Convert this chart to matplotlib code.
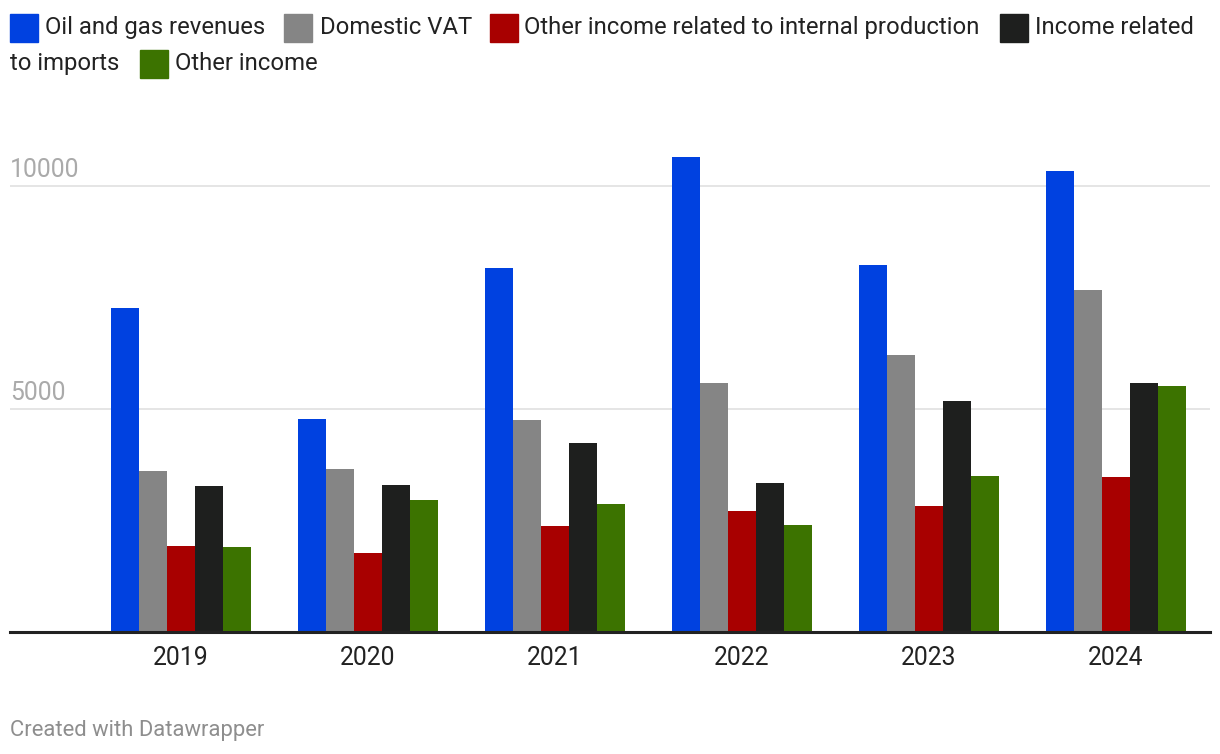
import matplotlib
matplotlib.use("Agg")
import matplotlib.pyplot as plt
from matplotlib.patches import Rectangle
import numpy as np

plt.rcParams['font.family'] = ['Roboto', 'DejaVu Sans']

# values
years = ["2019", "2020", "2021", "2022", "2023", "2024"]
oil_gas = [7262, 4776, 8157, 10642, 8224, 10329]
domestic_vat = [3612, 3657, 4754, 5582, 6209, 7664]
other_internal = [1933, 1776, 2381, 2717, 2829, 3478]
imports_income = [3276, 3299, 4239, 3343, 5179, 5582]
other_income = [1911, 2963, 2873, 2403, 3500, 5515]

series = [oil_gas, domestic_vat, other_internal, imports_income, other_income]
colors = ["#0041e0", "#858585", "#a80000", "#1e1f1e", "#3c7300"]
yticks = [5000, 10000]

W, H = 1220, 754
fig = plt.figure(figsize=(W / 100, H / 100), dpi=100)
fig.patch.set_facecolor("white")

def px(x, y):
    return x / W, 1 - y / H

ax_left, ax_right, ax_bottom = 10, 1210, 632
ymax = 11000
ppu = (632 - 186) / 10000  # pixels per unit
ax_top = ax_bottom - ymax * ppu
ax = fig.add_axes([ax_left / W, 1 - ax_bottom / H,
                   (ax_right - ax_left) / W, (ax_bottom - ax_top) / H])

x = np.arange(len(years))
bw = 0.1497
for i, (vals, c) in enumerate(zip(series, colors)):
    ax.bar(x + (i - 2) * bw, vals, width=bw, color=c, linewidth=0, zorder=3)

ax.set_xlim(-0.914, 5.503)
ax.set_ylim(0, ymax)
for s in ["top", "right", "left"]:
    ax.spines[s].set_visible(False)
ax.spines["bottom"].set_color("#222222")
ax.spines["bottom"].set_linewidth(2.2)
ax.spines["bottom"].set_zorder(4)
ax.set_yticks([])
for v in yticks:
    ax.axhline(v, color="#e5e5e5", lw=1.4, zorder=1)
    ax.text(0, v + 9 / ppu, str(v), transform=ax.get_yaxis_transform(),
            ha="left", va="baseline", fontsize=17.8, color="#aaaaaa")
ax.set_xticks(x)
ax.set_xticklabels([])
ax.tick_params(axis="x", length=0)
for xi, yr in zip(x, years):
    ax.text(xi, -33 / ppu, yr, ha="center", va="baseline", fontsize=17.8,
            color="#222222")

# legend drawn by hand, wrapped like the original
# (square x, text x, baseline y, series index, label)
legend_items = [
    (10, 45, 34, 0, "Oil and gas revenues"),
    (284, 320, 34, 1, "Domestic VAT"),
    (490, 524, 34, 2, "Other income related to internal production"),
    (1000, 1035, 34, 3, "Income related"),
    (140, 175, 70, 4, "Other income"),
]
for sx, tx, by, k, t in legend_items:
    fx, fy = px(sx, by + 8)
    fig.patches.append(Rectangle((fx, fy), 28 / W, 28 / H, transform=fig.transFigure,
                                 color=colors[k], figure=fig))
    fig.text(*px(tx, by), t, fontsize=17.2, color="#222222", va="baseline", ha="left")
fig.text(*px(10, 70), "to imports", fontsize=17.2, color="#222222",
         va="baseline", ha="left")

fig.text(*px(10, 736), "Created with Datawrapper", fontsize=15.8, color="#8e8e8e",
         va="baseline", ha="left")

fig.savefig("out.png", dpi=100)
